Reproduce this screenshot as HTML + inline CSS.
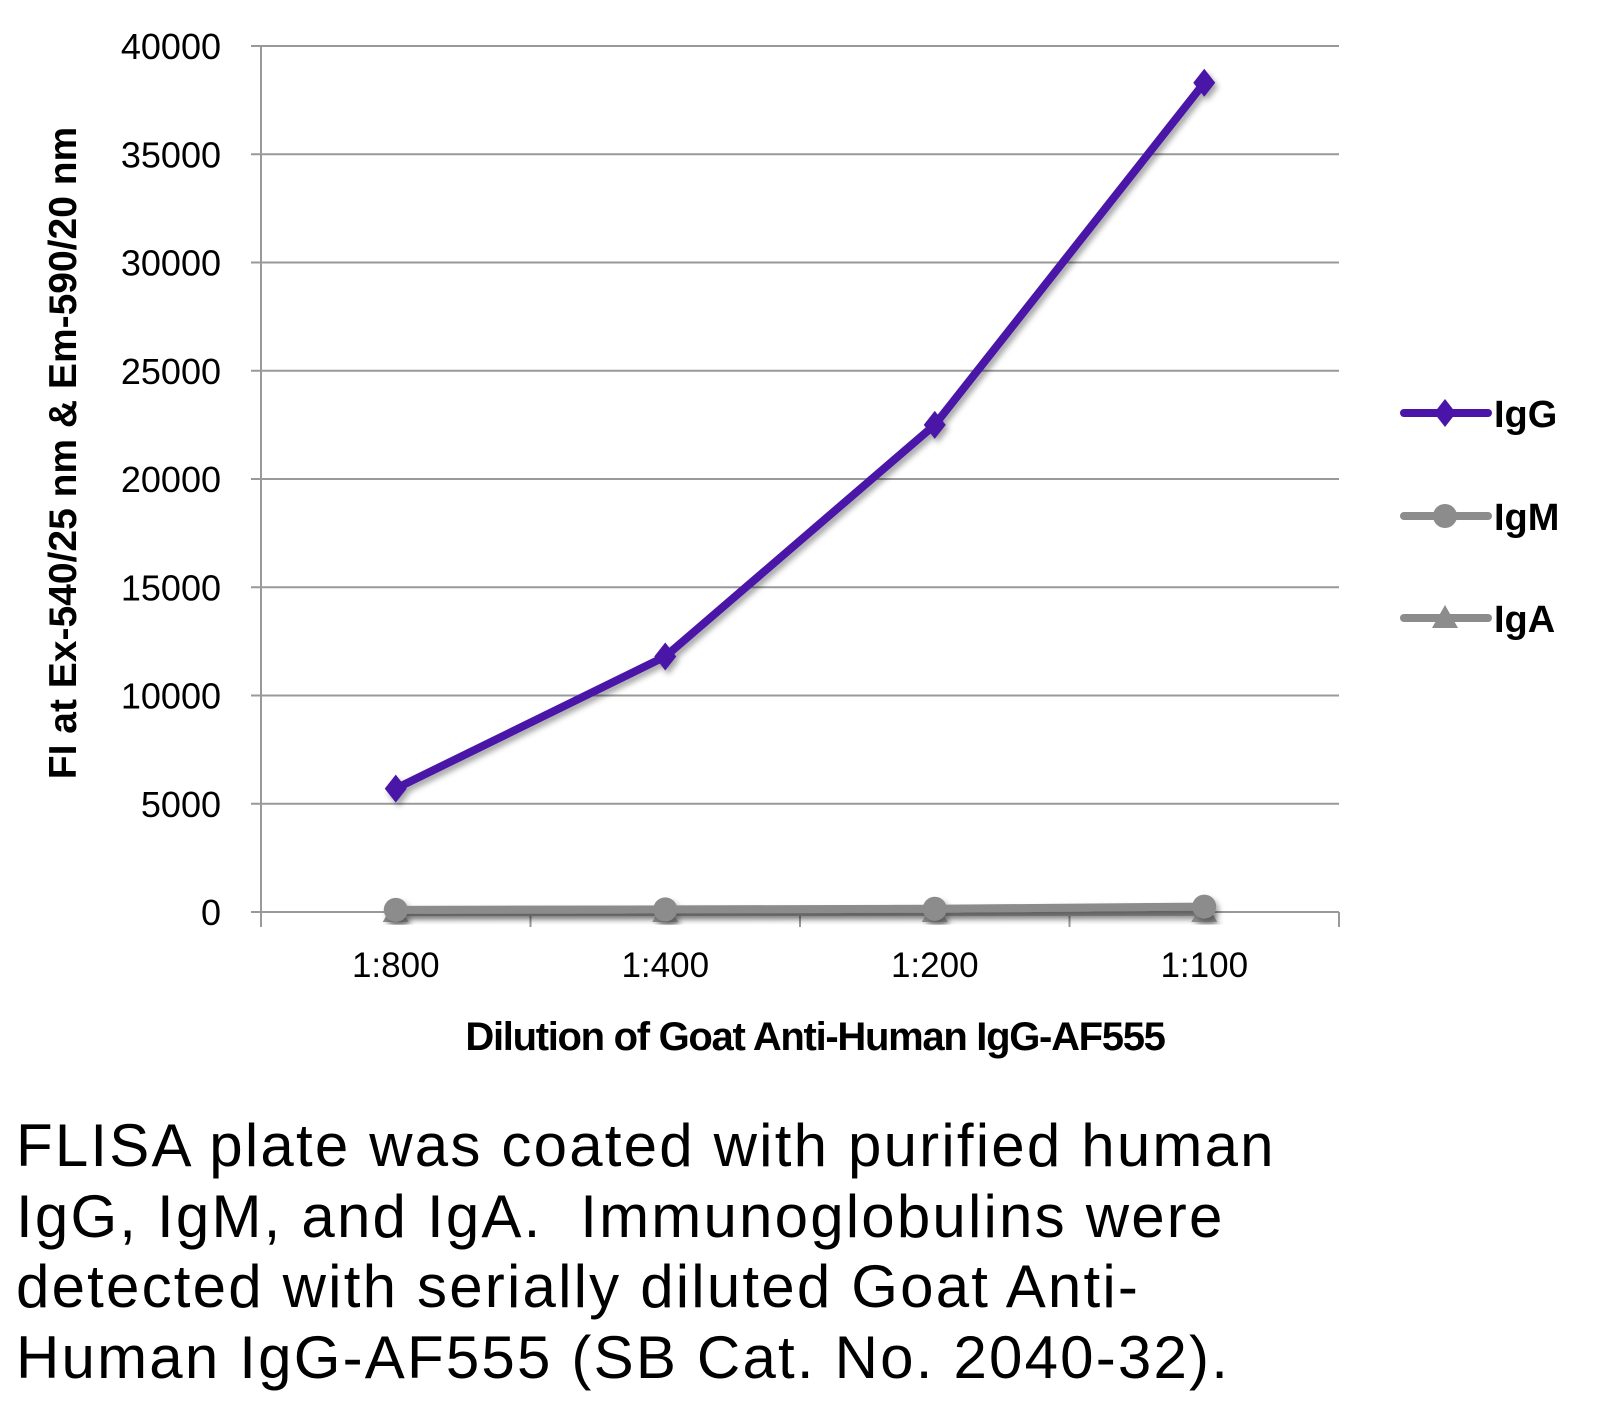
<!DOCTYPE html>
<html><head><meta charset="utf-8"><style>
html,body{margin:0;padding:0;background:#fff;}
body{width:1605px;height:1407px;overflow:hidden;font-family:"Liberation Sans",sans-serif;position:relative;}
#caption{position:absolute;left:16px;top:1111px;font-size:60px;line-height:70.7px;color:#000;letter-spacing:2.2px;white-space:nowrap;}
</style></head><body>
<svg id="chart" width="1605" height="1100" style="position:absolute;left:0;top:0" font-family="Liberation Sans, sans-serif">
<defs><filter id="sh" x="-10%" y="-10%" width="120%" height="120%"><feDropShadow dx="3" dy="4" stdDeviation="3" flood-color="#000" flood-opacity="0.35"/></filter></defs>
<g id="grid"></g><g id="axes"></g><g id="series"></g><g id="legend"></g>
<text transform="translate(76,453) rotate(-90)" text-anchor="middle" font-size="39" font-weight="bold">FI at Ex-540/25 nm &amp; Em-590/20 nm</text>
<text x="815" y="1050" text-anchor="middle" font-size="40" font-weight="bold" letter-spacing="-1.3">Dilution of Goat Anti-Human IgG-AF555</text>
</svg>
<div id="caption">FLISA plate was coated with purified human<br>IgG, IgM, and IgA.&nbsp; Immunoglobulins were<br>detected with serially diluted Goat Anti-<br>Human IgG-AF555 (SB Cat. No. 2040-32).</div>
<script>
const categories=["1:800","1:400","1:200","1:100"];
const igG=[5700,11800,22500,38300];
const igM=[100,120,150,250];
const igA=[0,0,0,0];
const yTicks=[0,5000,10000,15000,20000,25000,30000,35000,40000];
const NS="http://www.w3.org/2000/svg";
const X0=261,X1=1339,Y0=912,Y1=46,YMAX=40000;
const bw=(X1-X0)/categories.length;
const xs=i=>X0+bw*(i+0.5);
const ys=v=>Y0-(v/YMAX)*(Y0-Y1);
function mk(t,a,p){const e=document.createElementNS(NS,t);for(const k in a)e.setAttribute(k,a[k]);p.appendChild(e);return e;}
const grid=document.getElementById('grid'),axes=document.getElementById('axes'),ser=document.getElementById('series'),leg=document.getElementById('legend');
yTicks.forEach(v=>{
  if(v>0){const l=mk('line',{x1:X0-10,x2:X1,y1:ys(v),y2:ys(v),stroke:'#999','stroke-width':2},grid);
  
  }
  const t=mk('text',{x:221,y:ys(v)+13,'text-anchor':'end','font-size':36},axes);t.textContent=v;
  
  
});
const ya=mk('line',{x1:X0,x2:X0,y1:Y1,y2:Y0,stroke:'#999','stroke-width':2},axes);


const xa=mk('line',{x1:X0-10,x2:X1,y1:Y0,y2:Y0,stroke:'#999','stroke-width':2},axes);


for(let i=0;i<=categories.length;i++){mk('line',{x1:X0+bw*i,x2:X0+bw*i,y1:Y0,y2:Y0+15,stroke:'#999','stroke-width':2},axes);}
categories.forEach((c,i)=>{const t=mk('text',{x:xs(i),y:977,'text-anchor':'middle','font-size':35},axes);t.textContent=c;
  
  });
function marker(kind,x,y,col,p){
  if(kind==='d')return mk('polygon',{points:`${x},${y-14} ${x+11},${y} ${x},${y+14} ${x-11},${y}`,fill:col},p);
  if(kind==='c')return mk('circle',{cx:x,cy:y,r:12,fill:col},p);
  return mk('polygon',{points:`${x},${y-13} ${x+13},${y+10} ${x-13},${y+10}`,fill:col},p);
}
const series=[{n:'IgA',d:igA,c:'#8c8c8c',m:'t'},{n:'IgM',d:igM,c:'#8c8c8c',m:'c'},{n:'IgG',d:igG,c:'#4a14a8',m:'d'}];
series.forEach(s=>{
  const g=mk('g',{filter:'url(#sh)'},ser);
  
  
  mk('polyline',{points:s.d.map((v,i)=>xs(i)+','+ys(v)).join(' '),fill:'none',stroke:s.c,'stroke-width':8,'stroke-linejoin':'round'},g);
  s.d.forEach((v,i)=>{const m=marker(s.m,xs(i),ys(v),s.c,g);
    
    });
});
[{n:'IgG',c:'#4a14a8',m:'d',y:413},{n:'IgM',c:'#8c8c8c',m:'c',y:516},{n:'IgA',c:'#8c8c8c',m:'t',y:618}].forEach(s=>{
  const g=mk('g',{},leg);
  
  
  mk('line',{x1:1404,x2:1488,y1:s.y,y2:s.y,stroke:s.c,'stroke-width':8,'stroke-linecap':'round'},g);
  marker(s.m,1445,s.y,s.c,g);
  const t=mk('text',{x:1494,y:s.y+14,'font-size':38,'font-weight':'bold'},g);t.textContent=s.n;
});
</script>
</body></html>
